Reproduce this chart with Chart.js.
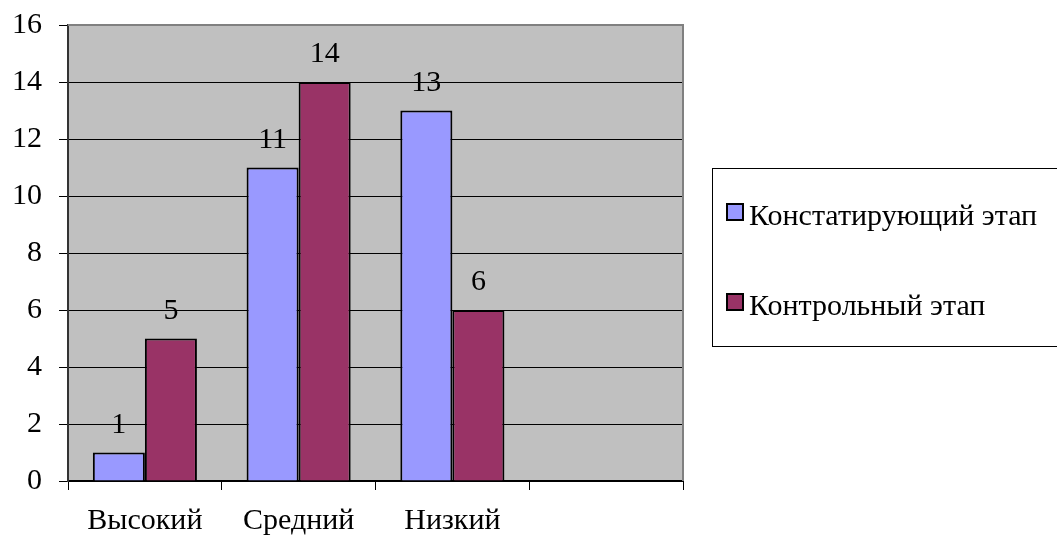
<!DOCTYPE html>
<html>
<head>
<meta charset="utf-8">
<script src="https://cdn.jsdelivr.net/npm/chart.js@4.4.1/dist/chart.umd.min.js"></script>
<style>
  html, body { margin: 0; padding: 0; background: #fff; }
  #wrap { width: 1057px; height: 535px; position: relative; }
</style>
</head>
<body>
<div id="wrap"><canvas id="chart" width="1057" height="535"></canvas></div>
<script>
// Chart data
const categories = ['Высокий', 'Средний', 'Низкий', ''];
const seriesNames = ['Констатирующий этап', 'Контрольный этап'];
const stageA = [1, 11, 13, null];
const stageB = [5, 14, 6, null];
const yTicks = [0, 2, 4, 6, 8, 10, 12, 14, 16];

const FONT = 'Times New Roman';

Chart.defaults.font.family = FONT;
Chart.defaults.font.size = 30;
Chart.defaults.color = '#000';

// Gray plot background with border
const plotBackground = {
    id: 'plotBackground',
    beforeDraw(chart) {
        const { ctx, chartArea: a } = chart;
        ctx.save();
        ctx.fillStyle = '#c0c0c0';
        ctx.fillRect(a.left, a.top, a.right - a.left, a.bottom - a.top);
        ctx.restore();
    },
    afterDatasetsDraw(chart) {
        const { ctx, chartArea: a } = chart;
        ctx.save();
        ctx.strokeStyle = '#808080';
        ctx.lineWidth = 2;
        ctx.beginPath();
        ctx.moveTo(a.left, a.top);
        ctx.lineTo(a.right, a.top);
        ctx.lineTo(a.right, a.bottom);
        ctx.stroke();
        ctx.restore();
    }
};

// Value labels above bars
const valueLabels = {
    id: 'valueLabels',
    afterDatasetsDraw(chart) {
        const { ctx } = chart;
        ctx.save();
        ctx.font = '30px ' + FONT;
        ctx.fillStyle = '#000';
        ctx.textAlign = 'center';
        ctx.textBaseline = 'alphabetic';
        chart.data.datasets.forEach((ds, i) => {
            chart.getDatasetMeta(i).data.forEach((bar, j) => {
                if (ds.data[j] == null) return;
                ctx.fillText(String(ds.data[j]), bar.x, bar.y - 20);
            });
        });
        ctx.restore();
    }
};

// Boxed legend on the right
const boxLegend = {
    id: 'boxLegend',
    afterDraw(chart) {
        const { ctx } = chart;
        ctx.save();
        ctx.strokeStyle = '#000';
        ctx.lineWidth = 1;
        ctx.strokeRect(712.5, 168.5, 360, 178);
        ctx.font = '30px ' + FONT;
        ctx.textBaseline = 'alphabetic';
        ctx.textAlign = 'left';
        chart.data.datasets.forEach((ds, i) => {
            const top = 203 + i * 90;
            ctx.fillStyle = ds.backgroundColor;
            ctx.fillRect(726, top, 18, 18);
            ctx.lineWidth = 2;
            ctx.strokeStyle = '#000';
            ctx.strokeRect(727, top + 1, 16, 16);
            ctx.fillStyle = '#000';
            ctx.fillText(ds.label, 749, top + 22);
        });
        ctx.restore();
    }
};

new Chart(document.getElementById('chart'), {
    type: 'bar',
    data: {
        labels: categories,
        datasets: [
            { label: seriesNames[0], data: stageA, backgroundColor: '#9999ff', borderColor: '#000', borderWidth: 2 },
            { label: seriesNames[1], data: stageB, backgroundColor: '#993366', borderColor: '#000', borderWidth: 2 }
        ]
    },
    options: {
        responsive: false,
        animation: false,
        layout: { padding: { top: 25, right: 374, left: 0, bottom: 0 } },
        datasets: { bar: { categoryPercentage: 0.677, barPercentage: 1 } },
        plugins: {
            legend: { display: false },
            tooltip: { enabled: false }
        },
        scales: {
            x: {
                offset: true,
                afterFit(scale) { scale.height = 54; },
                grid: { offset: true, drawOnChartArea: false, tickLength: 9, color: '#000', lineWidth: 1 },
                border: { color: '#000', width: 2 },
                ticks: { color: '#000', font: { family: FONT, size: 30 }, padding: 13, maxRotation: 0, autoSkip: false }
            },
            y: {
                min: 0,
                max: 16,
                afterFit(scale) { scale.width = 68; },
                afterBuildTicks(scale) { scale.ticks = yTicks.map(v => ({ value: v })); },
                grid: { color: '#000', lineWidth: 1, tickLength: 9 },
                border: { color: '#333', width: 2 },
                ticks: { color: '#000', font: { family: FONT, size: 30, lineHeight: 0.4 }, padding: 17 }
            }
        }
    },
    plugins: [plotBackground, valueLabels, boxLegend]
});
</script>
</body>
</html>
